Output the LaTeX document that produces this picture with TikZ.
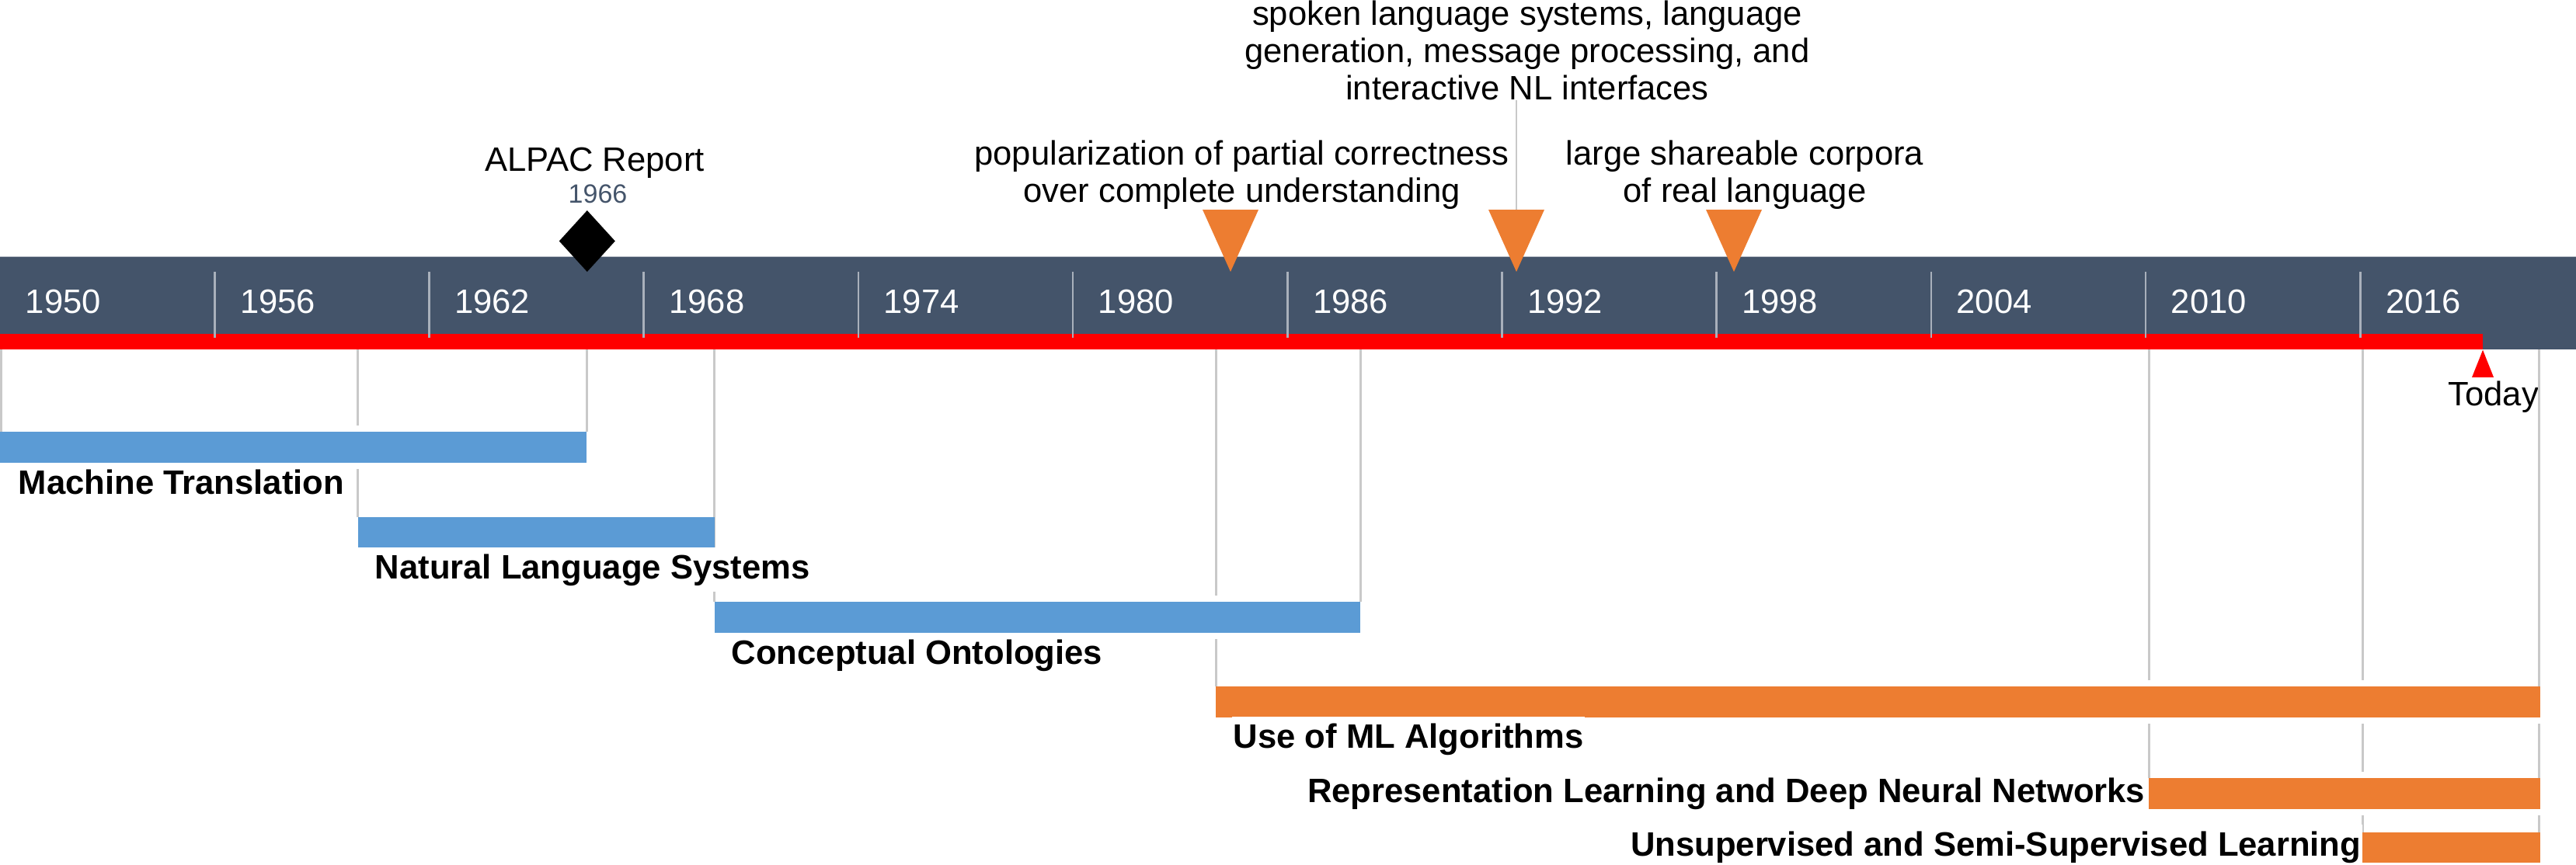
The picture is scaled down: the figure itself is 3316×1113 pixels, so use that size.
\documentclass[tikz,border=0pt]{standalone}
\usepackage{fontspec}
\setmainfont{Liberation Sans}
\definecolor{band}{HTML}{44546A}
\definecolor{tlblue}{HTML}{5B9BD5}
\definecolor{tlorange}{HTML}{ED7D31}
\definecolor{tlgray}{HTML}{C9C9C9}
\definecolor{tickc}{HTML}{A9B0BB}
\begin{document}
\begin{tikzpicture}[x=0.25pt,y=-0.25pt,
  txt/.style={inner sep=0pt, font=\fontsize{10.9}{11.9}\selectfont},
  yearlbl/.style={txt, text=white, anchor=base west},
  barlbl/.style={inner xsep=0.5pt, inner ysep=2pt, fill=white, font=\fontsize{10.9}{11.9}\selectfont\bfseries},
  conn/.style={draw=tlgray, line width=0.75pt},
  halo/.style={fill=white},
  bandtick/.style={draw=tickc, line width=0.65pt},
  ]
\useasboundingbox (0,0) rectangle (3316,1113);

% band
\fill[band] (0,330) rectangle (3316,450);
\draw[draw=tickc!80, line width=0.25pt] (0,330.5) -- (3316,330.5);
\fill[red] (0,430) rectangle (3196,450);
\coordinate (axis) at (0,450);
\foreach \k in {1,...,11} \draw[bandtick] ({276.2*\k},350) -- ({276.2*\k},435);
\foreach \k/\yr in {0/1950,1/1956,2/1962,3/1968,4/1974,5/1980,6/1986,7/1992,8/1998,9/2004,10/2010,11/2016}
  \node[yearlbl] (y\yr) at ({276.2*\k+32},403.3) {\yr};

% ALPAC
\node[txt, anchor=base] (alpac) at (765.5,220) {ALPAC Report};
\node[inner sep=0pt, anchor=base, text=band, font=\fontsize{8.5}{10}\selectfont] (alpacyr) at (769.5,261.7) {1966};
\coordinate (dia) at (755.8,310.5);
\fill[black] ([yshift=9.875pt]dia) -- ([xshift=9pt]dia) -- ([yshift=-9.875pt]dia) -- ([xshift=-9pt]dia) -- cycle;

% orange markers
\coordinate (t1) at (1584,350);
\coordinate (t2) at (1952,350);
\coordinate (t3) at (2232,350);
\foreach \t in {t1,t2,t3}
  \fill[tlorange] (\t) -- ([xshift=-9pt,yshift=20pt]\t) -- ([xshift=9pt,yshift=20pt]\t) -- cycle;
\coordinate (t2top) at (1952,270);

\node[txt, align=center, anchor=north] (spoken) at (1966,0.5)
  {spoken language systems, language\\generation, message processing, and\\interactive NL interfaces};
\node[txt, align=center, anchor=north] (popular) at (1598.5,180.5)
  {popularization of partial correctness\\over complete understanding};
\node[txt, align=center, anchor=north] (corpora) at (2246,180.5)
  {large shareable corpora\\of real language};
\draw[draw=tlgray, line width=0.55pt] (spoken.south -| t2top) -- (t2top);

% Today
\coordinate (today) at (3196,450.7);
\fill[red] (today) -- ([xshift=3.5pt,yshift=-8.8pt]today) -- ([xshift=-3.5pt,yshift=-8.8pt]today) -- cycle;
\node[txt, anchor=base west] (todaylbl) at (3150.7,522.3) {Today};

% bar 6: Unsupervised
\coordinate (usNW) at (3041,1072); \coordinate (usSE) at (3270,1111);
\fill[halo] (3041,1064) rectangle (3270,1119);
\draw[conn] (usNW |- axis) -- (usNW);
\draw[conn] ([xshift=-0.375pt]usSE |- axis) -- ([xshift=-0.375pt]usSE |- usNW);
\fill[tlorange] (usNW) rectangle (usSE);
\node[barlbl, anchor=base east] (uslbl) at (3042,1102) {Unsupervised and Semi-Supervised Learning};

% bar 5: Representation learning
\coordinate (rlNW) at (2766,1002); \coordinate (rlSE) at (3270,1042);
\fill[halo] (2766,994) rectangle (3270,1050);
\draw[conn] (rlNW |- axis) -- (rlNW);
\draw[conn] ([xshift=-0.375pt]rlSE |- axis) -- ([xshift=-0.375pt]rlSE |- rlNW);
\fill[tlorange] (rlNW) rectangle (rlSE);
\node[barlbl, anchor=base east] (rllbl) at (2764,1033) {Representation Learning and Deep Neural Networks};

% bar 4: ML algorithms
\coordinate (mlNW) at (1565,884); \coordinate (mlSE) at (3270,924);
\fill[halo] (1565,876) rectangle (3270,932);
\draw[conn] (mlNW |- axis) -- (mlNW);
\draw[conn] ([xshift=-0.375pt]mlSE |- axis) -- ([xshift=-0.375pt]mlSE |- mlNW);
\fill[tlorange] (mlNW) rectangle (mlSE);
\node[barlbl, anchor=base west] (mllbl) at (1585,963) {Use of ML Algorithms};

% bar 3: Conceptual ontologies
\coordinate (coNW) at (919.5,775); \coordinate (coSE) at (1751,815);
\fill[halo] (919.5,767) rectangle (1751,823);
\draw[conn] (coNW |- axis) -- (coNW);
\draw[conn] (coSE |- axis) -- (coSE |- coNW);
\fill[tlblue] (coNW) rectangle (coSE);
\node[barlbl, anchor=base west] (colbl) at (939,855) {Conceptual Ontologies};

% bar 2: Natural language systems
\coordinate (nlNW) at (460.5,666); \coordinate (nlSE) at (919.5,705);
\fill[halo] (460.5,658) rectangle (919.5,713);
\draw[conn] (nlNW |- axis) -- (nlNW);
\draw[conn] (nlSE |- axis) -- (nlSE |- nlNW);
\fill[tlblue] (nlNW) rectangle (nlSE);
\node[barlbl, anchor=base west] (nllbl) at (480,745) {Natural Language Systems};

% bar 1: Machine translation
\coordinate (mtNW) at (0,556); \coordinate (mtSE) at (755,596);
\fill[halo] (0,548) rectangle (755,604);
\draw[conn] ([xshift=0.375pt]mtNW |- axis) -- ([xshift=0.375pt]mtNW);
\draw[conn] (mtSE |- axis) -- (mtSE |- mtNW);
\fill[tlblue] (mtNW) rectangle (mtSE);
\node[barlbl, anchor=base west] (mtlbl) at (21,636) {Machine Translation};
\end{tikzpicture}
\end{document}
